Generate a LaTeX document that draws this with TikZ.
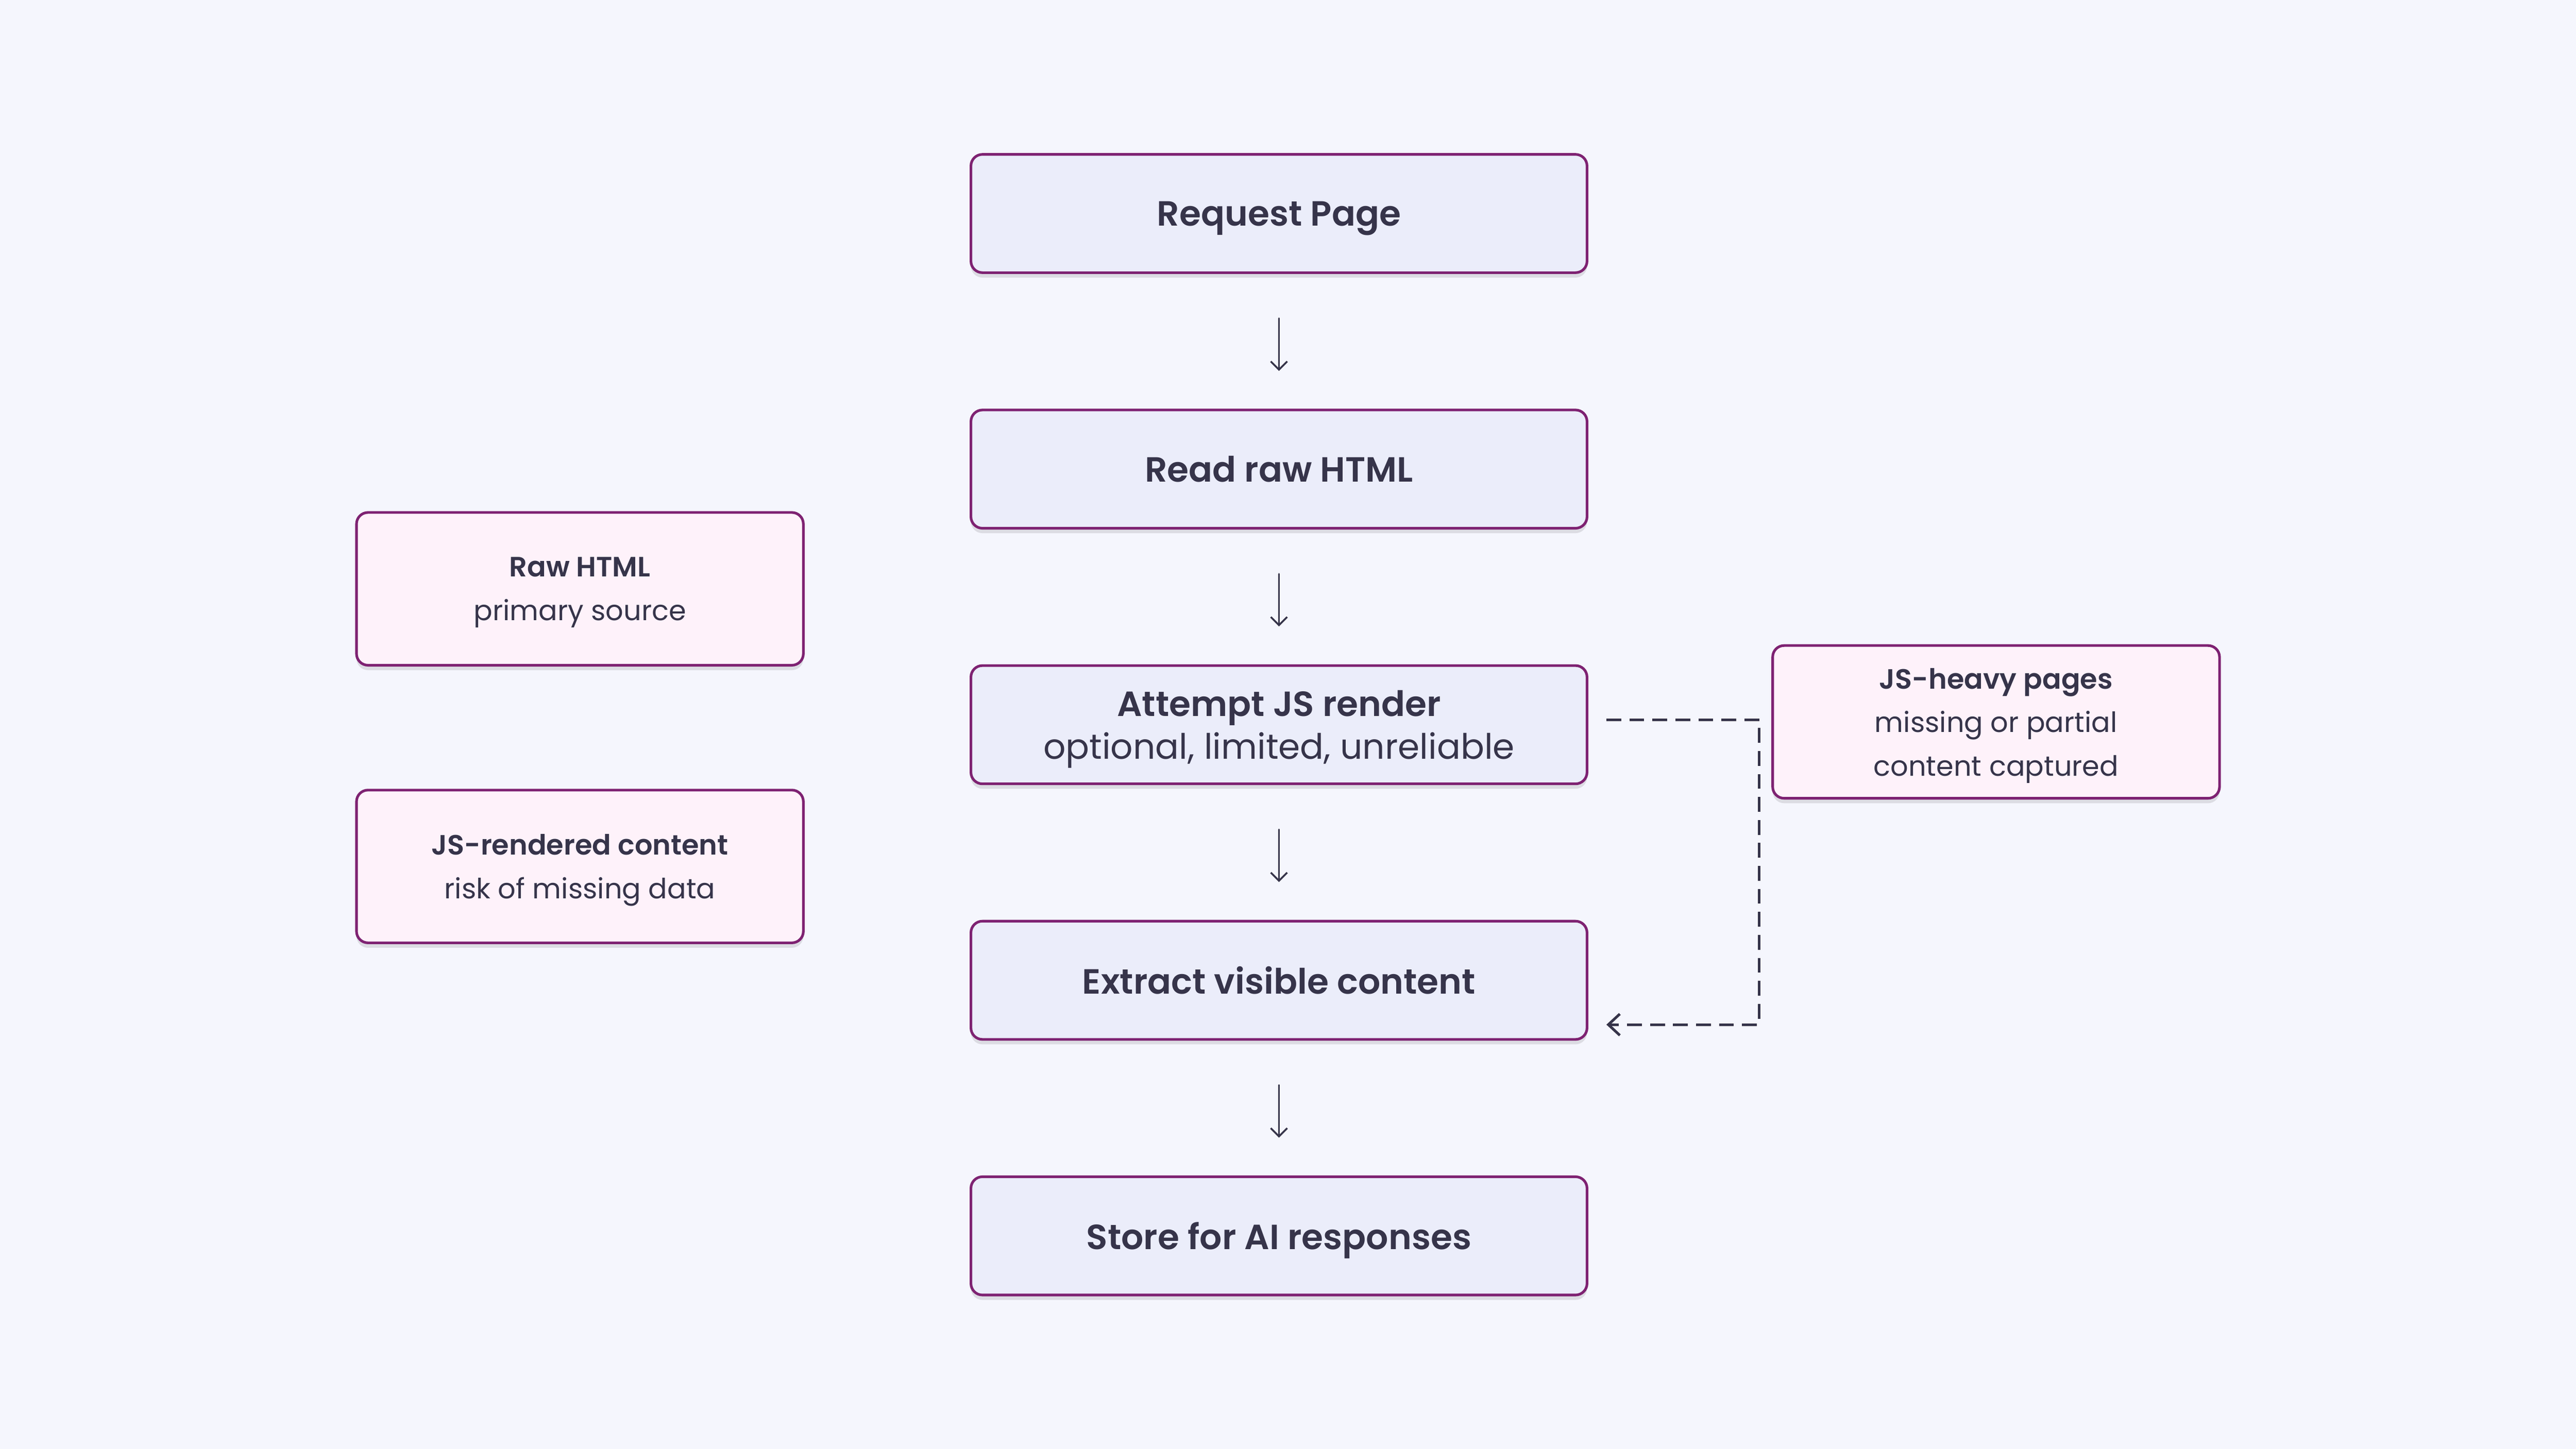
\documentclass[tikz,border=0pt]{standalone}
\usepackage{fontspec}
\setmainfont{Poppins}
\newfontfamily\semifont{Poppins SemiBold}
\usetikzlibrary{positioning,arrows.meta,shadows}
\definecolor{bgcol}{HTML}{F5F6FD}
\definecolor{stepfill}{HTML}{EBEDFA}
\definecolor{notefill}{HTML}{FEF2FA}
\definecolor{edgecol}{HTML}{7E2272}
\definecolor{inkcol}{HTML}{36344A}
\begin{document}
\begin{tikzpicture}[x=1pt, y=1pt,
    stepbox/.style = {draw=edgecol, line width=1.6pt, fill=stepfill, rounded corners=7pt,
      minimum width=375pt, minimum height=72pt, text=inkcol, align=center, text depth=0pt,
      font=\fontsize{21.3}{26}\selectfont,
      drop shadow={shadow xshift=0pt, shadow yshift=-3pt, opacity=0.10, fill=black}},
    notebox/.style = {stepbox, fill=notefill, minimum width=272pt, minimum height=93pt,
      font=\fontsize{17}{26.5}\selectfont},
    flow/.style = {draw=inkcol, line width=1.1pt, line cap=round,
      -{Straight Barb[length=5pt, width=10pt, line width=1.1pt]}},
    node distance=82pt]
  \fill[bgcol] (0,0) rectangle (1568,-882);
  \useasboundingbox (0,0) rectangle (1568,-882);

  % main column
  \node[stepbox] (req) at (778.5,-130) {\semifont Request Page};
  \node[stepbox] (read) [below=of req] {\semifont Read raw HTML};
  \node[stepbox] (js) [below=of read] {{\semifont Attempt JS render}\\optional, limited, unreliable};
  \node[stepbox] (ext) [below=of js] {\semifont Extract visible content};
  \node[stepbox] (store) [below=of ext] {\semifont Store for AI responses};

  % side notes
  \node[notebox] (raw) at (353,-358.5) {{\semifont Raw HTML}\\primary source};
  \node[notebox] (rend) at (353,-527.5) {{\semifont JS-rendered content}\\risk of missing data};
  \node[notebox] (heavy) at (1215,-439.5) {{\semifont JS-heavy pages}\\missing or partial\\content captured};

  % arrows
  \foreach \a/\b in {req/read, read/js, js/ext, ext/store}
    \draw[flow] ([yshift=-27pt]\a.south) -- ([yshift=23pt]\b.north);

  \draw[inkcol, line width=1.6pt, dash pattern=on 9pt off 5pt, -{Straight Barb[length=7pt, width=13pt, line width=1.6pt]}]
    ([xshift=11pt, yshift=3pt]js.east) -- ++(93,0) |- ([xshift=11pt, yshift=-27pt]ext.east);
\end{tikzpicture}
\end{document}
